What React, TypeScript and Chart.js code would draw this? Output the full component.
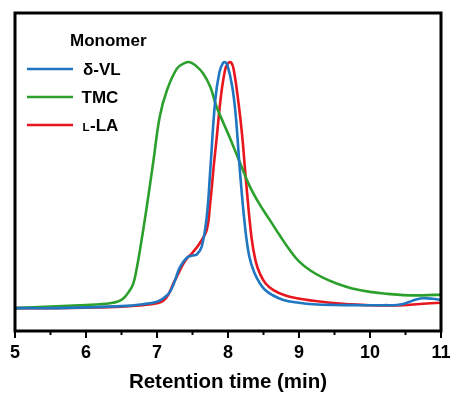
import React, { useEffect, useRef } from "react";
import { Chart, registerables } from "chart.js";

Chart.register(...registerables);

const legendTitle = "Monomer";
const xTitle = "Retention time (min)";
const xTickValues = [5, 6, 7, 8, 9, 10, 11];
const xMinorTicks = [5.5, 6.5, 7.5, 8.5, 9.5, 10.5];

const vlX = [5, 5.5, 6, 6.5, 6.8, 7.0, 7.09, 7.18, 7.25, 7.32, 7.42, 7.5, 7.56, 7.63, 7.7, 7.75, 7.82, 7.88, 7.93, 7.958, 7.99, 8.06, 8.11, 8.17, 8.24, 8.3, 8.37, 8.45, 8.52, 8.62, 8.78, 9.0, 9.2, 9.5, 9.9, 10.2, 10.38, 10.48, 10.56, 10.65, 10.75, 10.88, 11];
const vlY = [0, 0, 0.003, 0.008, 0.016, 0.026, 0.04, 0.065, 0.11, 0.165, 0.205, 0.214, 0.218, 0.25, 0.37, 0.56, 0.845, 0.96, 0.997, 1.0, 0.99, 0.9, 0.78, 0.55, 0.33, 0.21, 0.145, 0.1, 0.075, 0.054, 0.033, 0.022, 0.016, 0.013, 0.012, 0.012, 0.013, 0.018, 0.026, 0.035, 0.04, 0.038, 0.033];

const tmcX = [5, 5.5, 6, 6.2, 6.34, 6.45, 6.525, 6.6, 6.666, 6.72, 6.76, 6.855, 6.95, 7.04, 7.14, 7.28, 7.38, 7.465, 7.55, 7.65, 7.75, 7.84, 7.94, 8.03, 8.17, 8.31, 8.45, 8.59, 8.73, 8.87, 9.0, 9.155, 9.33, 9.53, 9.75, 10.0, 10.25, 10.47, 10.75, 11];
const tmcY = [0, 0.006, 0.013, 0.016, 0.02, 0.027, 0.039, 0.065, 0.1, 0.17, 0.236, 0.41, 0.6, 0.78, 0.886, 0.974, 0.995, 1.0, 0.985, 0.954, 0.9, 0.818, 0.75, 0.69, 0.59, 0.493, 0.42, 0.358, 0.295, 0.236, 0.19, 0.154, 0.125, 0.1, 0.08, 0.066, 0.058, 0.053, 0.052, 0.055];

const laX = [5, 5.5, 6, 6.5, 6.8, 7.0, 7.09, 7.16, 7.23, 7.3, 7.37, 7.43, 7.49, 7.6, 7.7, 7.75, 7.8, 7.84, 7.9, 7.96, 8.0, 8.04, 8.08, 8.15, 8.2, 8.25, 8.33, 8.39, 8.45, 8.53, 8.64, 8.8, 8.97, 9.2, 9.44, 9.7, 10.0, 10.47, 10.7, 11];
const laY = [0, 0, 0.002, 0.006, 0.012, 0.02, 0.03, 0.055, 0.1, 0.14, 0.18, 0.205, 0.222, 0.263, 0.317, 0.43, 0.58, 0.69, 0.86, 0.97, 0.995, 1.0, 0.97, 0.83, 0.7, 0.53, 0.29, 0.19, 0.14, 0.1, 0.073, 0.052, 0.04, 0.03, 0.022, 0.016, 0.012, 0.012, 0.017, 0.022];

const seriesLabels = ["δ-VL", "TMC", "ʟ-LA"];
const seriesColors = ["#1f77c2", "#2ca02c", "#e8161e"];

const FONT = "'Liberation Sans', Arial, sans-serif";

function toPoints(xs: number[], ys: number[]) {
  return xs.map((x, i) => ({ x, y: ys[i] }));
}

const framePlugin = {
  id: "frameAndLegend",
  afterDraw(chart: any) {
    const { ctx, chartArea } = chart;
    const xs = chart.scales.x;
    ctx.save();
    ctx.strokeStyle = "#000";
    ctx.lineWidth = 3;
    ctx.strokeRect(chartArea.left, chartArea.top, chartArea.right - chartArea.left, chartArea.bottom - chartArea.top);
    ctx.lineWidth = 2;
    ctx.beginPath();
    xTickValues.forEach((v) => {
      const px = xs.getPixelForValue(v);
      ctx.moveTo(px, chartArea.bottom);
      ctx.lineTo(px, chartArea.bottom + 7);
    });
    xMinorTicks.forEach((v) => {
      const px = xs.getPixelForValue(v);
      ctx.moveTo(px, chartArea.bottom);
      ctx.lineTo(px, chartArea.bottom + 4);
    });
    ctx.stroke();

    // legend
    const lx = chartArea.left + 12;
    ctx.fillStyle = "#000";
    ctx.textBaseline = "alphabetic";
    ctx.font = `bold 17px ${FONT}`;
    ctx.fillText(legendTitle, chartArea.left + 55, chartArea.top + 33);
    const textX = [lx + 56, lx + 54.5, lx + 55.5];
    chart.data.datasets.forEach((ds: any, i: number) => {
      const y = chartArea.top + 56 + i * 28;
      ctx.strokeStyle = ds.borderColor;
      ctx.lineWidth = 2.6;
      ctx.beginPath();
      ctx.moveTo(lx, y);
      ctx.lineTo(lx + 46, y);
      ctx.stroke();
      ctx.fillStyle = "#000";
      let tx = textX[i];
      const base = y + 6;
      const label: string = ds.label;
      if (label.startsWith("ʟ")) {
        ctx.font = `bold 11.5px ${FONT}`;
        ctx.fillText("L", tx, base);
        tx += ctx.measureText("L").width + 0.5;
        ctx.font = `bold 17px ${FONT}`;
        ctx.fillText(label.slice(1), tx, base);
      } else {
        ctx.font = `bold 17px ${FONT}`;
        ctx.fillText(label, tx, base);
      }
    });
    ctx.restore();
  },
};

export default function App() {
  const ref = useRef<HTMLCanvasElement>(null);
  useEffect(() => {
    document.body.style.margin = "0";
    const chart = new Chart(ref.current!, {
      type: "line",
      data: {
        datasets: [
          { label: seriesLabels[0], data: toPoints(vlX, vlY), borderColor: seriesColors[0], backgroundColor: seriesColors[0] },
          { label: seriesLabels[1], data: toPoints(tmcX, tmcY), borderColor: seriesColors[1], backgroundColor: seriesColors[1] },
          { label: seriesLabels[2], data: toPoints(laX, laY), borderColor: seriesColors[2], backgroundColor: seriesColors[2] },
        ],
      },
      options: {
        animation: false,
        responsive: false,
        events: [],
        layout: { padding: { left: 15, right: 12, top: 13, bottom: 0 } },
        elements: {
          point: { radius: 0 },
          line: { borderWidth: 2.6, tension: 0.4, capBezierPoints: true },
        },
        plugins: { legend: { display: false }, tooltip: { enabled: false } },
        scales: {
          x: {
            type: "linear",
            min: 5,
            max: 11,
            afterFit: (s: any) => {
              s.height = 63;
              s.paddingLeft = 0;
              s.paddingRight = 0;
            },
            grid: { display: false, drawTicks: false },
            border: { display: false },
            ticks: {
              stepSize: 1,
              padding: 11,
              color: "#000",
              font: { family: FONT, size: 18, weight: "bold" },
              maxRotation: 0,
            },
            title: {
              display: true,
              text: xTitle,
              color: "#000",
              font: { family: FONT, size: 20.5, weight: "bold", lineHeight: 1.1 },
              padding: { top: 0, bottom: 0 },
            },
          },
          y: {
            display: false,
            min: -0.093,
            max: 1.2,
          },
        },
      },
      plugins: [framePlugin],
    } as any);
    return () => chart.destroy();
  }, []);
  return <canvas ref={ref} width={453} height={394} style={{ display: "block" }} />;
}
